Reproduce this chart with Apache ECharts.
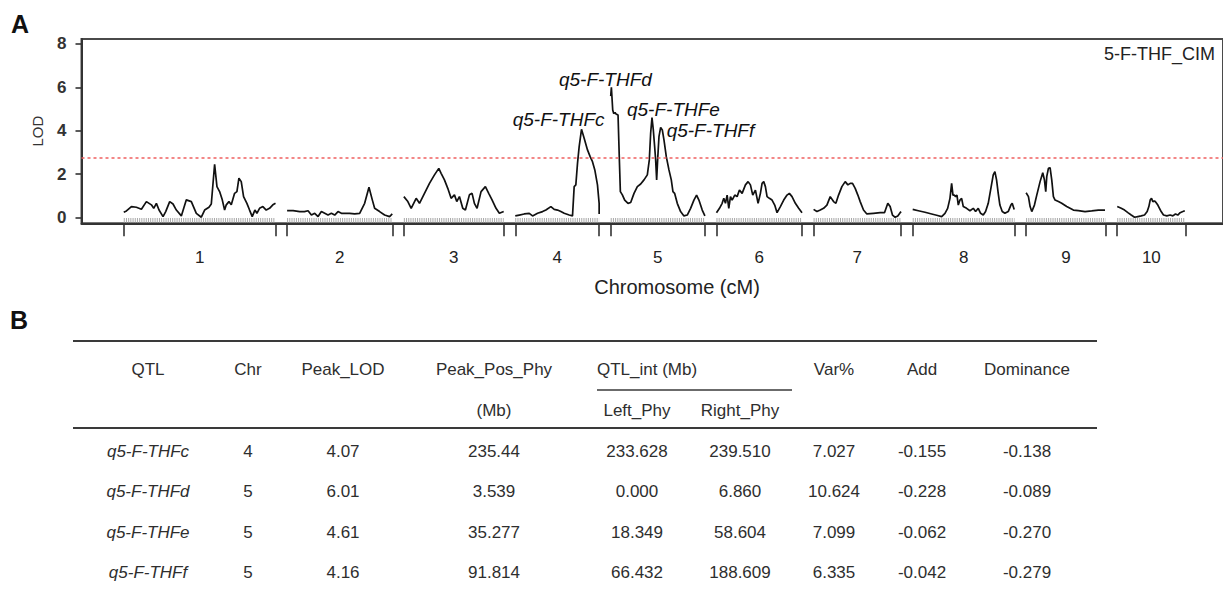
<!DOCTYPE html>
<html>
<head>
<meta charset="utf-8">
<script src="https://cdn.jsdelivr.net/npm/echarts@6/dist/echarts.min.js"></script>
<style>
html,body{margin:0;padding:0;background:#fff;}
#chart{width:1223px;height:594px;}
</style>
</head>
<body>
<div id="chart"></div>
<script>
// ---------------- DATA ----------------
const chromosomes = ['1','2','3','4','5','6','7','8','9','10'];
const chrLengths = [228, 158, 150, 126, 141.5, 128.5, 131.5, 153, 119.5, 102.5]; // cM
const chrGap = 17.4; // cM spacing between chromosomes
const yTicks = [0, 2, 4, 6, 8];
const threshold = 2.78;

// LOD profiles: [position within chromosome (cM), LOD]
const lodChr1 = [[0,0.25],[4,0.31],[11.5,0.51],[19,0.48],[26.5,0.39],[34,0.74],[41.5,0.59],[45,0.43],[49,0.66],[53,0.35],[59,0.05],[63,0.28],[69,0.74],[74,0.63],[79,0.35],[86.5,0.08],[94,0.82],[101.5,0.74],[109,0.2],[116.5,0.02],[121.5,0.35],[128,0.48],[131.5,0.63],[136.5,2.46],[140,1.43],[144,1.2],[148,0.82],[151.5,0.35],[154,0.59],[158,0.74],[161.5,0.59],[166.5,1.12],[170,1.2],[173,1.82],[176.5,1.66],[180,0.97],[185,0.66],[189,0.35],[193,0.05],[197,0.35],[200,0.2],[204,0.43],[209,0.51],[214,0.35],[219,0.43],[224,0.59],[228,0.66]];
const lodChr2 = [[0,0.32],[9,0.32],[19,0.28],[26,0.28],[31.5,0.32],[36.5,0.12],[41.5,0.2],[46.5,0.05],[51.5,0.28],[56.5,0.2],[61.5,0.12],[66.5,0.2],[71.5,0.12],[76.5,0.28],[81.5,0.2],[86.5,0.2],[94,0.2],[101.5,0.17],[109,0.2],[116.5,0.66],[123,1.4],[128,0.82],[131.5,0.43],[139,0.28],[146.5,0.12],[154,0.05],[158,0.17]];
const lodChr3 = [[0,0.97],[6,0.74],[11,0.43],[18.5,0.89],[23.5,0.66],[31,1.12],[38.5,1.58],[46,1.97],[52.5,2.27],[56,2.04],[61,1.74],[66,1.35],[71,0.89],[76,1.05],[79.5,0.74],[83.5,0.97],[88.5,0.43],[92.5,0.35],[98.5,1.05],[102.5,1.12],[106,0.66],[110,0.43],[116,1.2],[122.5,1.43],[127.5,1.12],[132.5,0.82],[138.5,0.43],[143.5,0.2],[150,0.28]];
const lodChr4 = [[0,0.08],[6,0.12],[13.5,0.17],[21,0.2],[26,0.08],[33.5,0.2],[41,0.28],[46,0.35],[53.5,0.51],[58.5,0.38],[63.5,0.35],[68.5,0.28],[73.5,0.2],[81,0.12],[86,0.08],[88.5,1.43],[91,1.51],[93.5,2.5],[96,3.27],[99.5,4.07],[103.5,3.66],[108.5,3.12],[112.5,2.81],[116,2.58],[119.5,2.2],[123.5,1.51],[126,0.66],[126,0.17]];
const lodChr5 = [[0,5.6],[1,6.01],[3,4.96],[4.5,4.8],[6.5,4.84],[8,4.78],[11,4.73],[13,2.66],[14.5,1.2],[17.5,1.05],[21,0.81],[26,0.66],[30,0.7],[35,1.12],[40,1.43],[45,1.55],[50,1.74],[55,1.97],[58,2.66],[60,3.89],[62,4.61],[64,4.04],[66,3.27],[67.5,2.66],[69,1.74],[70.5,2.66],[72.5,3.73],[75,4.16],[77.5,4.04],[80,3.58],[83.5,2.81],[87.5,2.2],[91,1.74],[93.5,1.2],[96,1.12],[100,0.66],[105,0.28],[110,0.08],[115,0.12],[120,0.43],[125,0.81],[129,1.04],[132.5,0.81],[137.5,0.35],[141.5,0.08]];
const lodChr6 = [[0,0.23],[4.5,0.43],[8.5,0.66],[11,0.89],[13.5,0.66],[16,1.04],[18.5,0.43],[21,0.97],[23.5,0.81],[27.5,1.04],[31,0.97],[34.5,1.27],[38.5,1.12],[43.5,1.51],[47.5,1.66],[51,1.51],[54.5,1.04],[58.5,1.27],[62.5,0.66],[66,1.12],[68.5,1.58],[71,1.66],[73.5,1.43],[76,0.97],[79.5,0.89],[83.5,0.81],[87.5,0.58],[91,0.23],[96,0.51],[101,0.81],[106,1.04],[109.5,1.12],[113.5,0.97],[118.5,0.66],[123.5,0.43],[128.5,0.23]];
const lodChr7 = [[0,0.38],[5,0.28],[10,0.35],[15,0.43],[20,0.58],[25,0.97],[30,0.74],[33.5,0.66],[37.5,1.04],[42.5,1.43],[47.5,1.66],[51.5,1.51],[55,1.58],[58.5,1.58],[62.5,1.35],[66.5,1.04],[70,0.74],[75,0.35],[80,0.17],[90,0.2],[100,0.23],[106.5,0.23],[111.5,0.66],[115,0.51],[118.5,0.12],[122.5,0.02],[126.5,0.08],[130,0.23],[131.5,0.28]];
const lodChr8 = [[0,0.38],[8.5,0.32],[18.5,0.25],[28.5,0.17],[36,0.11],[43.5,0.05],[48.5,0.2],[52.5,0.43],[56,0.89],[58.5,1.58],[60.5,1.04],[62.5,1.04],[64.5,0.97],[66.5,1.04],[68.5,0.58],[71,0.81],[73.5,0.89],[76,0.51],[81,0.43],[86,0.32],[91,0.43],[94.5,0.28],[98.5,0.43],[102,0.2],[106,0.12],[109.5,0.28],[113.5,0.66],[117,1.27],[121,1.97],[123.5,2.12],[126,1.74],[128.5,1.12],[131,0.58],[134.5,0.28],[138.5,0.2],[143.5,0.28],[147.5,0.58],[149.5,0.66],[152.5,0.38]];
const lodChr9 = [[0,1.15],[3.5,0.97],[6,0.51],[8.5,0.28],[12.5,0.58],[16,1.04],[21,1.66],[25,2.07],[27.5,1.74],[29.5,1.2],[31,1.89],[33.5,2.27],[36,2.3],[38.5,1.74],[41,0.97],[43.5,0.81],[48.5,0.74],[53.5,0.66],[57.5,0.58],[61,0.51],[66,0.43],[71,0.35],[78.5,0.32],[88.5,0.28],[98.5,0.31],[108.5,0.35],[118.5,0.35]];
const lodChr10 = [[0,0.51],[6,0.43],[11,0.35],[16,0.23],[21,0.12],[26,0.02],[31,0.05],[36,0.08],[41,0.12],[45,0.28],[47.5,0.51],[49.5,0.81],[51.5,0.89],[53.5,0.74],[56,0.77],[58.5,0.69],[61,0.58],[63.5,0.43],[66,0.28],[69.5,0.12],[74.5,0.08],[79.5,0.12],[83.5,0.08],[87.5,0.17],[91,0.12],[94.5,0.23],[98.5,0.28],[101.5,0.32]];
const lodProfiles = [lodChr1, lodChr2, lodChr3, lodChr4, lodChr5, lodChr6, lodChr7, lodChr8, lodChr9, lodChr10];

// QTL table
const qtlNames = ['q5-F-THFc', 'q5-F-THFd', 'q5-F-THFe', 'q5-F-THFf'];
const qtlChr = [4, 5, 5, 5];
const qtlPeakLOD = ['4.07', '6.01', '4.61', '4.16'];
const qtlPeakCM = [99.5, 1, 62, 75];
const qtlPeakPosPhy = ['235.44', '3.539', '35.277', '91.814'];
const qtlLeftPhy = ['233.628', '0.000', '18.349', '66.432'];
const qtlRightPhy = ['239.510', '6.860', '58.604', '188.609'];
const qtlVar = ['7.027', '10.624', '7.099', '6.335'];
const qtlAdd = ['-0.155', '-0.228', '-0.062', '-0.042'];
const qtlDom = ['-0.138', '-0.089', '-0.270', '-0.279'];
const headerRow1 = ['QTL', 'Chr', 'Peak_LOD', 'Peak_Pos_Phy', 'QTL_int (Mb)', 'Var%', 'Add', 'Dominance'];
const headerRow2 = ['(Mb)', 'Left_Phy', 'Right_Phy'];

// ---------------- BUILD ----------------
const chrStart = [];
let acc = 0;
chrLengths.forEach((len, i) => { chrStart.push(acc); acc += len + chrGap; });
const chrEnd = chrStart.map((s, i) => s + chrLengths[i]);
const chrMid = chrStart.map((s, i) => s + chrLengths[i] / 2);
const boundaryTicks = [];
chrStart.forEach((s, i) => { boundaryTicks.push(s, chrEnd[i]); });

const series = [];
// marker rug
chromosomes.forEach((c, i) => {
  series.push({
    type: 'line', silent: true, symbol: 'none', z: 1,
    data: [[chrStart[i], -0.12], [chrEnd[i], -0.12]],
    lineStyle: { color: '#a8a8a8', width: 4.5, type: [1, 1.2] }
  });
});
// LOD curves
lodProfiles.forEach((prof, i) => {
  series.push({
    type: 'line', symbol: 'none', z: 3,
    data: prof.map(p => [chrStart[i] + p[0], p[1]]),
    lineStyle: { color: '#111', width: 1.7 },
    markLine: i === 0 ? {
      silent: true, symbol: 'none', label: { show: false },
      lineStyle: { color: '#f06060', type: [3, 3], width: 1.5 },
      data: [{ yAxis: threshold }]
    } : undefined
  });
});
// QTL labels
const labelCfg = [
  { align: 'right', offset: [23, -10] },
  { align: 'center', offset: [-6, -8] },
  { align: 'left', offset: [-25, -8] },
  { align: 'left', offset: [6, 3] }
];
series.push({
  type: 'scatter', symbolSize: 0, z: 4, silent: true,
  itemStyle: { opacity: 1 },
  data: qtlNames.map((n, k) => ({
    name: n,
    value: [chrStart[qtlChr[k] - 1] + qtlPeakCM[k], +qtlPeakLOD[k]],
    label: {
      show: true, position: 'inside', formatter: n,
      align: labelCfg[k].align, verticalAlign: 'middle',
      offset: labelCfg[k].offset, opacity: 1,
      fontStyle: 'italic', fontSize: 19, color: '#111',
      fontFamily: 'Liberation Sans, Arial, sans-serif'
    }
  }))
});

// table graphics
const FONT = 'Liberation Sans, Arial, sans-serif';
const graphics = [];
function txt(t, x, y, opts) {
  opts = opts || {};
  graphics.push({
    type: 'text', x: x, y: y, silent: true,
    style: {
      text: t, fill: opts.fill || '#2e2e2e',
      font: (opts.style || 'normal') + ' ' + (opts.weight || 'normal') + ' ' + (opts.size || 17) + 'px ' + FONT,
      textAlign: opts.align || 'center', textVerticalAlign: 'middle',
      align: opts.align || 'center', verticalAlign: 'middle'
    }
  });
}
function hline(x1, x2, y, w) {
  graphics.push({ type: 'line', silent: true, shape: { x1: x1, y1: y, x2: x2, y2: y }, style: { stroke: '#3a3a3a', lineWidth: w } });
}
txt('A', 11, 24, { weight: 'bold', size: 25, fill: '#111', align: 'left' });
txt('B', 10, 320, { weight: 'bold', size: 25, fill: '#111', align: 'left' });
txt('5-F-THF_CIM', 1215, 54, { size: 18, fill: '#222', align: 'right' });
txt('Chromosome (cM)', 677, 287, { size: 20, fill: '#222' });

const colX = [148, 248, 343, 494, 637, 740, 834, 922, 1027];
const h1Y = 369, h2Y = 410, rowY = [451, 491, 532, 572];
hline(73, 1097, 341, 2);
hline(597, 792, 390, 1.5);
hline(73, 1097, 428, 2);
txt(headerRow1[0], colX[0], h1Y);
txt(headerRow1[1], colX[1], h1Y);
txt(headerRow1[2], colX[2], h1Y);
txt(headerRow1[3], colX[3], h1Y);
txt(headerRow1[4], 597, h1Y, { align: 'left' });
txt(headerRow1[5], colX[6], h1Y);
txt(headerRow1[6], colX[7], h1Y);
txt(headerRow1[7], colX[8], h1Y);
txt(headerRow2[0], colX[3], h2Y);
txt(headerRow2[1], colX[4], h2Y);
txt(headerRow2[2], colX[5], h2Y);
qtlNames.forEach((n, r) => {
  const y = rowY[r];
  txt(n, colX[0], y, { style: 'italic' });
  txt(String(qtlChr[r]), colX[1], y);
  txt(qtlPeakLOD[r], colX[2], y);
  txt(qtlPeakPosPhy[r], colX[3], y);
  txt(qtlLeftPhy[r], colX[4], y);
  txt(qtlRightPhy[r], colX[5], y);
  txt(qtlVar[r], colX[6], y);
  txt(qtlAdd[r], colX[7], y);
  txt(qtlDom[r], colX[8], y);
});

const chart = echarts.init(document.getElementById('chart'), null, { renderer: 'svg' });
chart.setOption({
  animation: false,
  backgroundColor: '#fff',
  textStyle: { fontFamily: FONT },
  grid: { left: 81.5, right: -2, top: 39, bottom: 370.7, show: true, borderColor: '#4a4a4a', borderWidth: 2 },
  xAxis: {
    type: 'value', min: -63.5, max: 1651.5,
    splitLine: { show: false },
    axisLine: { show: true, onZero: false, lineStyle: { color: '#333', width: 2 } },
    axisTick: { show: true, customValues: boundaryTicks, length: 13, lineStyle: { color: '#333', width: 1.6 } },
    axisLabel: {
      customValues: chrMid, margin: 26, fontSize: 17, color: '#222',
      formatter: function (v) {
        let best = 0, d = Infinity;
        chrMid.forEach((m, i) => { if (Math.abs(m - v) < d) { d = Math.abs(m - v); best = i; } });
        return chromosomes[best];
      }
    }
  },
  yAxis: {
    type: 'value', min: -0.26, max: 8.23,
    name: 'LOD', nameLocation: 'middle', nameGap: 37, nameRotate: 90,
    nameTextStyle: { fontSize: 15, color: '#333' },
    splitLine: { show: false },
    axisLine: { show: true, onZero: false, lineStyle: { color: '#333', width: 2 } },
    axisTick: { show: true, customValues: yTicks, length: 6, lineStyle: { color: '#333', width: 1.6 } },
    axisLabel: { customValues: yTicks, margin: 15, fontSize: 17, fontWeight: 'bold', color: '#333' }
  },
  series: series,
  graphic: graphics
});
</script>
</body>
</html>
